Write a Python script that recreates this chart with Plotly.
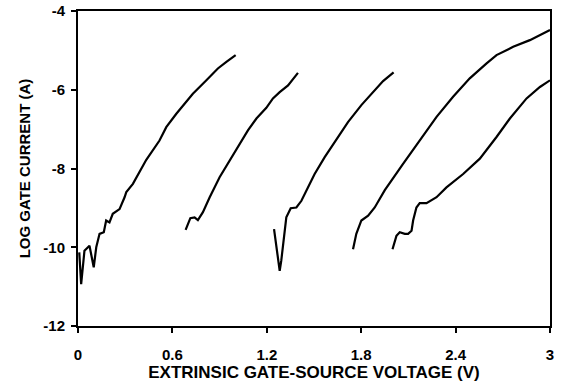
import plotly.graph_objects as go

# Curve data (x: extrinsic gate-source voltage V, y: log gate current)
c1_x = [0.008, 0.016, 0.020, 0.041, 0.073, 0.100, 0.116, 0.137, 0.164, 0.179, 0.200, 0.221, 0.264,
        0.296, 0.307, 0.349, 0.434, 0.518, 0.561, 0.625, 0.730, 0.816, 0.889, 0.943, 1.002]
c1_y = [-10.13, -10.77, -10.94, -10.09, -9.96, -10.51, -10.00, -9.66, -9.62, -9.32, -9.37, -9.15, -9.03,
        -8.73, -8.60, -8.39, -7.78, -7.29, -6.95, -6.61, -6.10, -5.76, -5.46, -5.29, -5.12]

c2_x = [0.684, 0.714, 0.741, 0.762, 0.794, 0.837, 0.900, 0.964, 1.027, 1.080, 1.134, 1.197, 1.239,
        1.282, 1.335, 1.398]
c2_y = [-9.56, -9.26, -9.24, -9.31, -9.11, -8.73, -8.22, -7.80, -7.37, -7.03, -6.73, -6.46, -6.22,
        -6.06, -5.89, -5.57]

c3_x = [1.246, 1.261, 1.282, 1.292, 1.313, 1.324, 1.352, 1.388, 1.420, 1.504, 1.568, 1.632, 1.716,
        1.801, 1.865, 1.939, 2.006]
c3_y = [-9.54, -10.00, -10.60, -10.34, -9.58, -9.24, -9.01, -8.99, -8.82, -8.14, -7.71, -7.33, -6.82,
        -6.39, -6.10, -5.78, -5.56]

c4_x = [1.748, 1.769, 1.801, 1.844, 1.886, 1.950, 2.066, 2.172, 2.279, 2.384, 2.490, 2.597, 2.660,
        2.766, 2.872, 3.000]
c4_y = [-10.05, -9.66, -9.32, -9.20, -8.99, -8.55, -7.88, -7.29, -6.69, -6.18, -5.71, -5.33, -5.12,
        -4.91, -4.74, -4.48]

c5_x = [1.999, 2.024, 2.045, 2.077, 2.098, 2.120, 2.130, 2.151, 2.172, 2.215, 2.279, 2.342, 2.448,
        2.554, 2.660, 2.745, 2.851, 2.936, 3.000]
c5_y = [-10.05, -9.71, -9.62, -9.66, -9.66, -9.58, -9.32, -8.99, -8.88, -8.88, -8.73, -8.48, -8.14,
        -7.75, -7.20, -6.73, -6.22, -5.93, -5.76]

x_ticks = [0, 0.6, 1.2, 1.8, 2.4, 3]
x_tick_labels = ["0", "0.6", "1.2", "1.8", "2.4", "3"]
y_ticks = [-12, -10, -8, -6, -4]
y_tick_labels = ["-12", "-10", "-8", "-6", "-4"]

FONT = "Arial, 'Liberation Sans', sans-serif"

fig = go.Figure()
for xs, ys in [(c1_x, c1_y), (c2_x, c2_y), (c3_x, c3_y), (c4_x, c4_y), (c5_x, c5_y)]:
    fig.add_trace(go.Scatter(x=xs, y=ys, mode="lines",
                             line=dict(color="black", width=2.2), showlegend=False,
                             hoverinfo="skip"))

fig.update_layout(
    width=571, height=385,
    margin=dict(l=78, r=21, t=11, b=59, autoexpand=False),
    paper_bgcolor="white", plot_bgcolor="white",
    font=dict(family=FONT, color="black"),
)
fig.update_xaxes(
    range=[0, 3], tickvals=x_ticks, ticktext=x_tick_labels,
    showgrid=False, zeroline=False,
    showline=True, linecolor="black", linewidth=2, mirror=True,
    ticks="outside", ticklen=5, tickwidth=2, tickcolor="black",
    tickfont=dict(family=FONT, size=15, weight="bold"),
    ticklabelstandoff=9,
    title=dict(text="EXTRINSIC GATE-SOURCE VOLTAGE (V)", standoff=1,
               font=dict(family=FONT, size=17, weight="bold")),
)
fig.update_yaxes(
    range=[-12, -4], tickvals=y_ticks, ticktext=y_tick_labels,
    showgrid=False, zeroline=False,
    showline=True, linecolor="black", linewidth=2, mirror=True,
    ticks="outside", ticklen=5, tickwidth=2, tickcolor="black",
    tickfont=dict(family=FONT, size=15, weight="bold"),
    ticklabelstandoff=3,
    title=dict(text="LOG GATE CURRENT (A)", standoff=9,
               font=dict(family=FONT, size=15, weight="bold")),
)

fig.write_html("out.html", config={"displayModeBar": False},
               post_script="document.body.style.margin='0';document.body.style.overflow='hidden';")
